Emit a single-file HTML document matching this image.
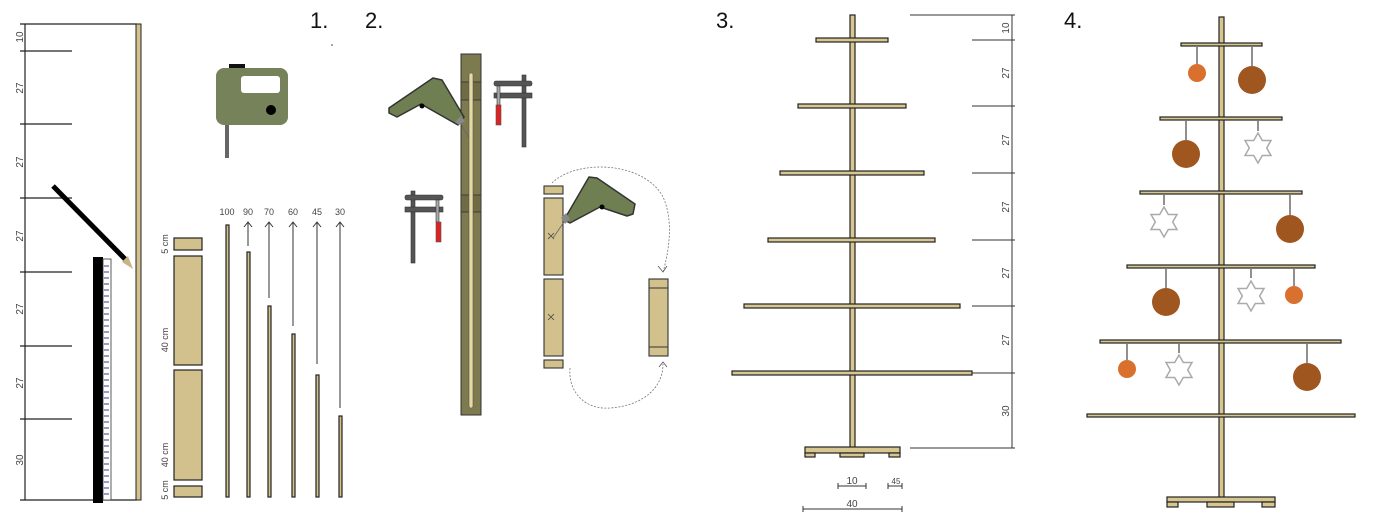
<!DOCTYPE html>
<html><head><meta charset="utf-8"><style>
html,body{margin:0;padding:0;background:#fff;}
svg{display:block;font-family:"Liberation Sans",sans-serif;}
</style></head><body>
<svg width="1398" height="516" viewBox="0 0 1398 516" xmlns="http://www.w3.org/2000/svg">
<defs>
<polygon id="star" points="0,-15 4.3,-7.5 13,-7.5 8.7,0 13,7.5 4.3,7.5 0,15 -4.3,7.5 -13,7.5 -8.7,0 -13,-7.5 -4.3,-7.5" fill="#fff" stroke="#aaa" stroke-width="1.5"/>
</defs>
<!-- PANEL 1 -->
<g stroke="#222" stroke-width="1.2">
<line x1="25" y1="24" x2="25" y2="500"/>
<line x1="20" y1="24" x2="137" y2="24"/>
<line x1="20" y1="500" x2="137" y2="500"/>
<line x1="20" y1="51" x2="72" y2="51"/>
<line x1="20" y1="124" x2="72" y2="124"/>
<line x1="20" y1="198" x2="72" y2="198"/>
<line x1="20" y1="272" x2="72" y2="272"/>
<line x1="20" y1="346" x2="72" y2="346"/>
<line x1="20" y1="419" x2="72" y2="419"/>
</g>
<g font-size="10" fill="#444" text-anchor="middle">
<text transform="translate(23,37) rotate(-90)">10</text>
<text transform="translate(23,88) rotate(-90)">27</text>
<text transform="translate(23,162) rotate(-90)">27</text>
<text transform="translate(23,236) rotate(-90)">27</text>
<text transform="translate(23,309) rotate(-90)">27</text>
<text transform="translate(23,383) rotate(-90)">27</text>
<text transform="translate(23,460) rotate(-90)">30</text>
</g>
<rect x="136" y="24" width="5" height="476" fill="#d4c28e" stroke="#222" stroke-width="1"/>
<line x1="53" y1="186" x2="125" y2="259" stroke="#000" stroke-width="5"/>
<polygon points="122,262 128,256 133,269" fill="#c9b583"/>
<rect x="93" y="257" width="10" height="246" fill="#000"/>
<rect x="103" y="259" width="8" height="241" fill="#fff" stroke="#333" stroke-width="0.8"/>
<path d="M104 266h5M104 272h5M104 278h5M104 284h5M104 290h5M104 296h5M104 302h5M104 308h5M104 314h5M104 320h5M104 326h5M104 332h5M104 338h5M104 344h5M104 350h5M104 356h5M104 362h5M104 368h5M104 374h5M104 380h5M104 386h5M104 392h5M104 398h5M104 404h5M104 410h5M104 416h5M104 422h5M104 428h5M104 434h5M104 440h5M104 446h5M104 452h5M104 458h5M104 464h5M104 470h5M104 476h5M104 482h5M104 488h5M104 494h5" stroke="#3a3a9a" stroke-width="1"/>
<text x="310" y="28" font-size="22" fill="#111">1.</text>
<circle cx="332" cy="45" r="0.8" fill="#333"/>
<!-- jigsaw -->
<rect x="229" y="64" width="16" height="6" fill="#111"/>
<rect x="216" y="68" width="72" height="57" rx="8" fill="#76825a"/>
<rect x="241" y="76" width="39" height="17" rx="3" fill="#fff"/>
<circle cx="271" cy="110" r="5" fill="#000"/>
<rect x="225" y="125" width="4" height="33" fill="#666"/>
<!-- pieces -->
<g fill="#d2c18c" stroke="#222" stroke-width="1.2">
<rect x="174" y="238" width="28" height="12"/>
<rect x="174" y="256" width="28" height="109"/>
<rect x="174" y="370" width="28" height="110"/>
<rect x="174" y="486" width="28" height="11"/>
<rect x="226" y="225" width="3" height="272"/>
<rect x="247" y="252" width="3" height="245"/>
<rect x="268" y="306" width="3" height="191"/>
<rect x="292" y="334" width="3" height="163"/>
<rect x="316" y="375" width="3" height="122"/>
<rect x="339" y="416" width="3" height="81"/>
</g>
<g font-size="9" fill="#444" text-anchor="middle">
<text transform="translate(168,244) rotate(-90)">5 cm</text>
<text transform="translate(168,340) rotate(-90)">40 cm</text>
<text transform="translate(168,455) rotate(-90)">40 cm</text>
<text transform="translate(168,490) rotate(-90)">5 cm</text>
<text x="227" y="215">100</text>
<text x="248" y="215">90</text>
<text x="269" y="215">70</text>
<text x="293" y="215">60</text>
<text x="317" y="215">45</text>
<text x="340" y="215">30</text>
</g>
<g stroke="#333" stroke-width="1" fill="none">
<path d="M248 246V222M244 227l4-5 4 5"/>
<path d="M269 298V222M265 227l4-5 4 5"/>
<path d="M293 326V222M289 227l4-5 4 5"/>
<path d="M317 364V222M313 227l4-5 4 5"/>
<path d="M340 408V222M336 227l4-5 4 5"/>
</g>
<!-- PANEL 2 -->
<text x="365" y="28" font-size="22" fill="#111">2.</text>
<rect x="461" y="54" width="20" height="361" fill="#7d7a50" stroke="#333" stroke-width="1"/>
<rect x="461" y="82" width="20" height="18" fill="#6f6c45" stroke="#333" stroke-width="0.8"/>
<rect x="461" y="195" width="20" height="17" fill="#6f6c45" stroke="#333" stroke-width="0.8"/>
<rect x="469" y="73" width="4" height="335" rx="2" fill="#e8d9a0" stroke="#555" stroke-width="0.6"/>
<polygon points="389,108 433,78 442,80 464,117 458,125 421,104 397,117 389,113" fill="#6f7f52" stroke="#333" stroke-width="1.5" stroke-linejoin="round"/>
<circle cx="422" cy="106" r="2.5" fill="#000"/>
<path d="M455 122 L461 116 L465 121 L459 125Z" fill="#888"/>
<line x1="461" y1="124" x2="469" y2="138" stroke="#666" stroke-width="0.8"/>
<g fill="#555" stroke="#333" stroke-width="0.6">
<rect x="522" y="75" width="4" height="72"/>
<rect x="494" y="81" width="38" height="5" rx="2"/>
<rect x="494" y="93" width="38" height="5"/>
<rect x="497" y="86" width="3" height="19" fill="#aaa"/>
<rect x="496" y="105" width="5" height="20" fill="#d22" stroke="#555"/>
<rect x="411" y="191" width="4" height="72"/>
<rect x="405" y="195" width="38" height="5" rx="2"/>
<rect x="405" y="207" width="38" height="5"/>
<rect x="436" y="200" width="3" height="22" fill="#aaa"/>
<rect x="436" y="222" width="5" height="20" fill="#d22" stroke="#555"/>
</g>
<g fill="#d2c18c" stroke="#333" stroke-width="1.1">
<rect x="544" y="186" width="19" height="8"/>
<rect x="544" y="198" width="19" height="77"/>
<rect x="544" y="279" width="19" height="77"/>
<rect x="544" y="360" width="19" height="8"/>
<rect x="649" y="279" width="19" height="77"/>
<line x1="649" y1="288" x2="668" y2="288"/>
<line x1="649" y1="347" x2="668" y2="347"/>
</g>
<path d="M548 233l6 6M554 233l-6 6M548 314l6 6M554 314l-6 6" stroke="#444" stroke-width="0.8"/>
<g fill="none" stroke="#777" stroke-width="0.8" stroke-dasharray="2,1.5">
<path d="M552 183 C575 160 640 160 662 195 C675 220 668 255 663 272"/>
<path d="M570 368 C568 392 585 410 610 408 C640 406 663 390 663 364"/>
</g>
<path d="M658 266l5 6 4-6M659 367l4-5 4 5" fill="none" stroke="#555" stroke-width="0.8"/>
<polygon points="564,220 589,177 597,178 635,204 633,214 627,216 600,207 570,223" fill="#6f7f52" stroke="#333" stroke-width="1.5" stroke-linejoin="round"/>
<circle cx="602" cy="207" r="2.5" fill="#000"/>
<path d="M561 218 L566 213 L570 219 L565 224Z" fill="#888"/>
<line x1="564" y1="222" x2="553" y2="238" stroke="#666" stroke-width="0.8"/>
<!-- PANEL 3 -->
<text x="716" y="28" font-size="22" fill="#111">3.</text>
<g fill="#d8c690" stroke="#222" stroke-width="1.2">
<rect x="850" y="15" width="5" height="433"/>
<rect x="816" y="38" width="72" height="4"/>
<rect x="798" y="104" width="108" height="4"/>
<rect x="780" y="171" width="144" height="4"/>
<rect x="768" y="238" width="167" height="4"/>
<rect x="744" y="304" width="216" height="4"/>
<rect x="732" y="371" width="240" height="4"/>
<rect x="805" y="447" width="95" height="6"/>
<rect x="805" y="453" width="10" height="4"/>
<rect x="840" y="453" width="24" height="4"/>
<rect x="889" y="453" width="11" height="4"/>
</g>
<g stroke="#333" stroke-width="1">
<line x1="1012" y1="15" x2="1012" y2="448"/>
<line x1="910" y1="15" x2="1015" y2="15"/>
<line x1="910" y1="448" x2="1015" y2="448"/>
<line x1="972" y1="40" x2="1015" y2="40"/>
<line x1="972" y1="106" x2="1015" y2="106"/>
<line x1="972" y1="173" x2="1015" y2="173"/>
<line x1="972" y1="240" x2="1015" y2="240"/>
<line x1="972" y1="306" x2="1015" y2="306"/>
<line x1="972" y1="373" x2="1015" y2="373"/>
<line x1="838" y1="486" x2="866" y2="486"/>
<line x1="888" y1="486" x2="902" y2="486"/>
<line x1="803" y1="509" x2="902" y2="509"/>
<path d="M838 483v6M866 483v6M888 483v6M902 483v6M803 506v6M902 506v6"/>
</g>
<g font-size="10" fill="#444" text-anchor="middle">
<text transform="translate(1009,28) rotate(-90)">10</text>
<text transform="translate(1009,73) rotate(-90)">27</text>
<text transform="translate(1009,140) rotate(-90)">27</text>
<text transform="translate(1009,207) rotate(-90)">27</text>
<text transform="translate(1009,273) rotate(-90)">27</text>
<text transform="translate(1009,340) rotate(-90)">27</text>
<text transform="translate(1009,411) rotate(-90)">30</text>
<text x="852" y="484">10</text>
<text x="896" y="484" font-size="8">45</text>
<text x="852" y="507">40</text>
</g>
<!-- PANEL 4 -->
<text x="1064" y="28" font-size="22" fill="#111">4.</text>
<g stroke="#222" stroke-width="1">
<path d="M1197 47v17M1252 47v19M1186 121v19M1258 121v10M1164 195v10M1290 195v20M1166 269v19M1251 269v9M1294 269v17M1127 344v16M1179 344v9M1307 344v19"/>
</g>
<g fill="#d8c690" stroke="#222" stroke-width="1.2">
<rect x="1219" y="17" width="5" height="481"/>
<rect x="1181" y="43" width="81" height="3"/>
<rect x="1160" y="117" width="122" height="3"/>
<rect x="1140" y="191" width="162" height="3"/>
<rect x="1127" y="265" width="188" height="3"/>
<rect x="1100" y="340" width="241" height="3"/>
<rect x="1087" y="414" width="268" height="3"/>
<rect x="1167" y="497" width="108" height="5"/>
<rect x="1167" y="502" width="11" height="5"/>
<rect x="1207" y="502" width="27" height="5"/>
<rect x="1262" y="502" width="13" height="5"/>
</g>
<g fill="#a0561f">
<circle cx="1252" cy="80" r="14"/>
<circle cx="1186" cy="154" r="14"/>
<circle cx="1290" cy="229" r="14"/>
<circle cx="1166" cy="302" r="14"/>
<circle cx="1307" cy="377" r="14"/>
</g>
<g fill="#d9702e">
<circle cx="1197" cy="73" r="9"/>
<circle cx="1294" cy="295" r="9"/>
<circle cx="1127" cy="369" r="9"/>
</g>
<use href="#star" x="1258" y="148"/>
<use href="#star" x="1164" y="222"/>
<use href="#star" x="1251" y="296"/>
<use href="#star" x="1179" y="370"/>
</svg>
</body></html>
